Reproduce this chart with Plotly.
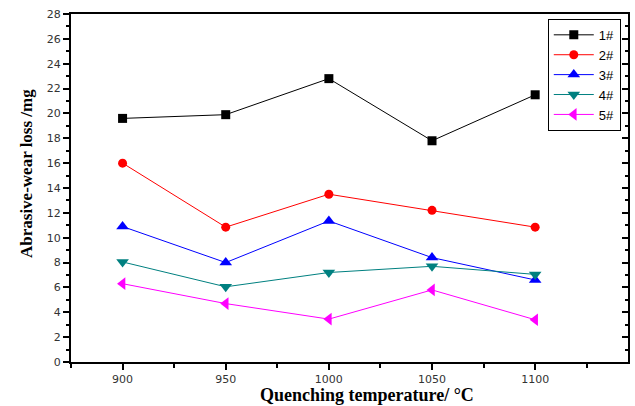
import plotly.graph_objects as go

temps = [900, 950, 1000, 1050, 1100]
names = ["1#", "2#", "3#", "4#", "5#"]
s1 = [19.6, 19.9, 22.8, 17.8, 21.5]
s2 = [16.0, 10.85, 13.5, 12.2, 10.85]
s3 = [10.9, 8.0, 11.35, 8.4, 6.6]
s4 = [8.05, 6.05, 7.2, 7.7, 7.05]
s5 = [6.3, 4.7, 3.45, 5.8, 3.4]
series = [s1, s2, s3, s4, s5]
colors = ["#000000", "#FF0000", "#0000FF", "#008080", "#FF00FF"]
symbols = ["square", "circle", "triangle-up", "triangle-down", "triangle-left"]
sizes = [9, 9, 11, 11, 11]

fig = go.Figure()
for n, s, c, m, sz in zip(names, series, colors, symbols, sizes):
    fig.add_trace(go.Scatter(x=temps, y=s, name=n, mode="lines+markers",
                             line=dict(color=c, width=1),
                             marker=dict(symbol=m, size=sz, color=c)))
fig.add_trace(go.Scatter(x=[], y=[], yaxis="y2", showlegend=False, hoverinfo="skip"))

axfont = dict(family="DejaVu Sans", size=11, color="#333333")
fig.update_layout(
    width=635, height=406,
    margin=dict(l=71, r=7, t=14, b=44),
    paper_bgcolor="white", plot_bgcolor="white",
    showlegend=True,
    legend=dict(x=0.856, y=0.986, xanchor="left", yanchor="top",
                bordercolor="black", borderwidth=1, bgcolor="white",
                font=dict(family="Liberation Sans", size=13, color="black"),
                itemwidth=40, tracegroupgap=0),
    xaxis=dict(range=[875, 1145], tick0=900, dtick=50, showgrid=False, zeroline=False,
               showline=True, linecolor="black", linewidth=2, mirror=True,
               ticks="outside", ticklen=6, tickwidth=2, tickcolor="black",
               minor=dict(ticks="outside", ticklen=4, dtick=25, tick0=900, tickwidth=2, tickcolor="black"),
               tickfont=axfont),
    yaxis=dict(range=[0, 28], tick0=0, dtick=2, showgrid=False, zeroline=False,
               showline=True, linecolor="black", linewidth=2,
               ticks="outside", ticklen=6, tickwidth=2, tickcolor="black",
               minor=dict(ticks="outside", ticklen=3, dtick=1, tickwidth=2, tickcolor="black"),
               tickfont=axfont),
    yaxis2=dict(range=[0, 28], tick0=0, dtick=2, overlaying="y", side="right",
                showgrid=False, zeroline=False, showticklabels=False,
                showline=True, linecolor="black", linewidth=2,
                ticks="inside", ticklen=6, tickwidth=2, tickcolor="black",
                minor=dict(ticks="inside", ticklen=3, dtick=1, tickwidth=2, tickcolor="black")),
    annotations=[
        dict(text="<b>Quenching temperature/ °C</b>", x=0.5, y=0, xref="paper", yref="paper",
             xshift=17, yshift=-33, xanchor="center", yanchor="middle", showarrow=False,
             font=dict(family="Liberation Serif", size=18, color="black")),
        dict(text="<b>Abrasive-wear loss /mg</b>", x=0, y=0.5, xref="paper", yref="paper",
             xshift=-45, yshift=14, xanchor="center", yanchor="middle", textangle=-90, showarrow=False,
             font=dict(family="Liberation Serif", size=17, color="black")),
    ],
)
fig.write_html("out.html", config={"displayModeBar": False},
               post_script="document.body.style.margin='0';document.body.style.padding='0';document.body.style.overflow='hidden';")
